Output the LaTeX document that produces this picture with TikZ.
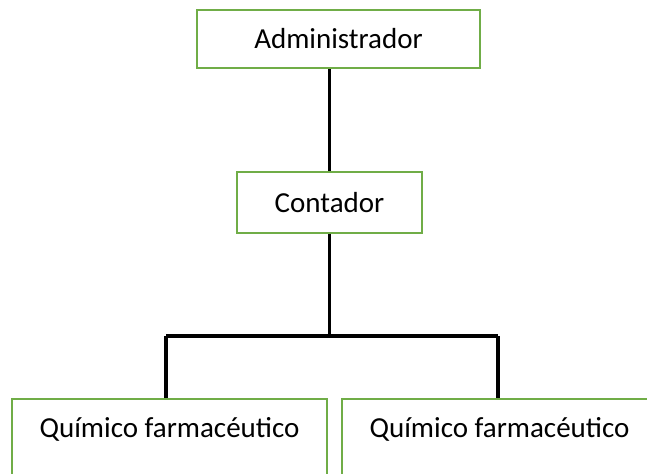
\documentclass[tikz,border=0pt]{standalone}
\usepackage{fontspec}
\setmainfont{Carlito}
\usepackage{tikz}
\definecolor{boxgreen}{HTML}{70AD47}

\begin{document}
\begin{tikzpicture}[x=0.02cm, y=-0.02cm,
		node_style/.style={rectangle,draw=boxgreen,line width=1.1pt,fill=white,inner sep=0pt,
			font=\fontsize{16.5}{20}\selectfont},
		low_style/.style={node_style,anchor=north,minimum width=315*0.02cm,
			text height=0.78cm,text depth=1.8cm},
		edge_style/.style={draw=black,line width=2pt}]

		\clip (0,0) rectangle (647,474);

		\node[node_style,minimum width=283*0.02cm,minimum height=58*0.02cm] (admin) at (338.5,39) {Administrador};
		\node[node_style,minimum width=185*0.02cm,minimum height=61*0.02cm] (contador) at (329.5,202.5) {Contador};
		\node[low_style] (quimA) at (169.5,398) {Químico farmacéutico};
		\node[low_style] (quimB) at (499.5,398) {Químico farmacéutico};

		\coordinate (bus) at (329.5,336);
		\coordinate (busL) at (166,336);
		\coordinate (busR) at (498,336);

		\draw[edge_style]  (contador.north) -- (contador.north |- admin.south);
		\draw[edge_style]  (contador.south) -- (bus);
		\draw[edge_style]  (busL) -- (busR);
		\draw[edge_style]  (busL) -- (busL |- quimA.north);
		\draw[edge_style]  (busR) -- (busR |- quimB.north);
\end{tikzpicture}
\end{document}
